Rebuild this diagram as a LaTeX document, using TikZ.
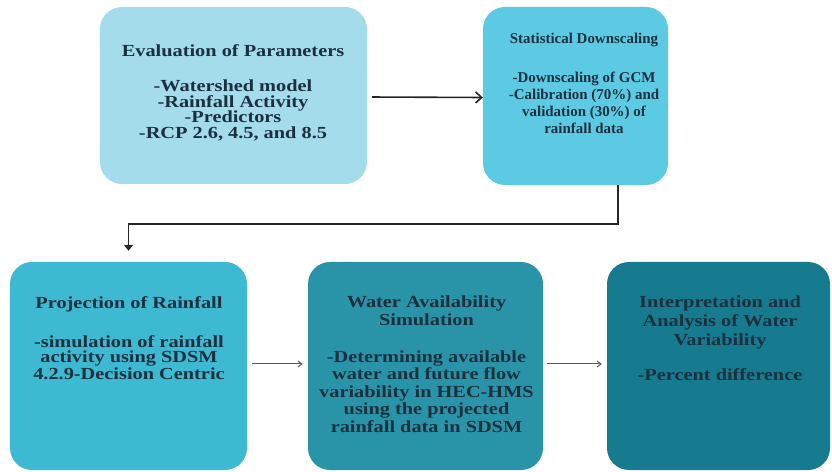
\documentclass[tikz,border=0pt]{standalone}
\usepackage{fontspec}
\setmainfont{Liberation Serif}
\newfontfamily\widefont[FakeStretch=1.2]{Liberation Serif}
\usetikzlibrary{arrows.meta,calc}
\definecolor{cA}{HTML}{A5DCEC}
\definecolor{cB}{HTML}{5CCAE2}
\definecolor{cC}{HTML}{3DB9D2}
\definecolor{cD}{HTML}{2994A7}
\definecolor{cE}{HTML}{167B8F}
\definecolor{txtc}{HTML}{1A3040}
\tikzset{
  boxnode/.style={draw=none, rounded corners=22bp, inner sep=0pt},
  txtnode/.style={inner sep=0pt, align=center, text=txtc, anchor=north},
  wide/.style={font=\widefont\bfseries\fontsize{17}{#1}\selectfont},
  heavyconn/.style={draw=black!85, line width=1.6bp},
  lightconn/.style={draw=black!65, line width=1bp, -{Straight Barb[length=4bp,width=6bp]}},
}
\begin{document}
\begin{tikzpicture}[x=1bp,y=-1bp]
\useasboundingbox (0,0) rectangle (832,472);
% boxes
\node[boxnode, fill=cA, minimum width=267bp, minimum height=177bp] (b1) at (233.5,95.5) {};
\node[boxnode, fill=cB, minimum width=185bp, minimum height=178bp] (b2) at (575.5,96) {};
\node[boxnode, fill=cC, minimum width=237bp, minimum height=208bp] (b3) at (128.5,366) {};
\node[boxnode, fill=cD, minimum width=235bp, minimum height=208bp] (b4) at (425.5,366) {};
\node[boxnode, fill=cE, minimum width=223bp, minimum height=208bp] (b5) at (718.5,366) {};
% texts
\node[txtnode, wide=16] (t1) at (233,44) {Evaluation of Parameters\\[19bp]-Watershed model\\-Rainfall Activity\\-Predictors\\-RCP 2.6, 4.5, and 8.5};
\node[txtnode, font=\bfseries\fontsize{15}{17}\selectfont] (t2) at (584,33) {Statistical Downscaling\\[22bp]-Downscaling of GCM\\-Calibration (70\%) and\\validation (30\%) of\\rainfall data};
\node[txtnode, wide=15.5] (t3) at (129,296) {Projection of Rainfall\\[22.5bp]-simulation of rainfall\\activity using SDSM\\4.2.9-Decision Centric};
\node[txtnode, wide=17.5] (t4) at (426.5,296) {Water Availability\\Simulation\\[19.5bp]-Determining available\\water and future flow\\variability in HEC-HMS\\using the projected\\rainfall data in SDSM};
\node[txtnode, wide=19] (t5) at (720,296) {Interpretation and\\Analysis of Water\\Variability\\[16bp]-Percent difference};
% connectors
\draw[heavyconn, -{Straight Barb[length=6bp,width=11bp]}, shorten <=5bp] ([yshift=-1.5bp]b1.east) -- ([yshift=-1.5bp]b2.west);
\coordinate (c2) at ([xshift=42.5bp]b2.south);
\draw[heavyconn, -{Triangle[length=6bp,width=9bp]}, shorten >=11bp] (c2) -- ++(0,39) -| (b3.north);
\draw[lightconn, shorten <=5bp, shorten >=5bp] ([yshift=2bp]b3.east) -- ([yshift=2bp]b4.west);
\draw[lightconn, shorten <=4bp, shorten >=5bp] ([yshift=2bp]b4.east) -- ([yshift=2bp]b5.west);
\end{tikzpicture}
\end{document}
